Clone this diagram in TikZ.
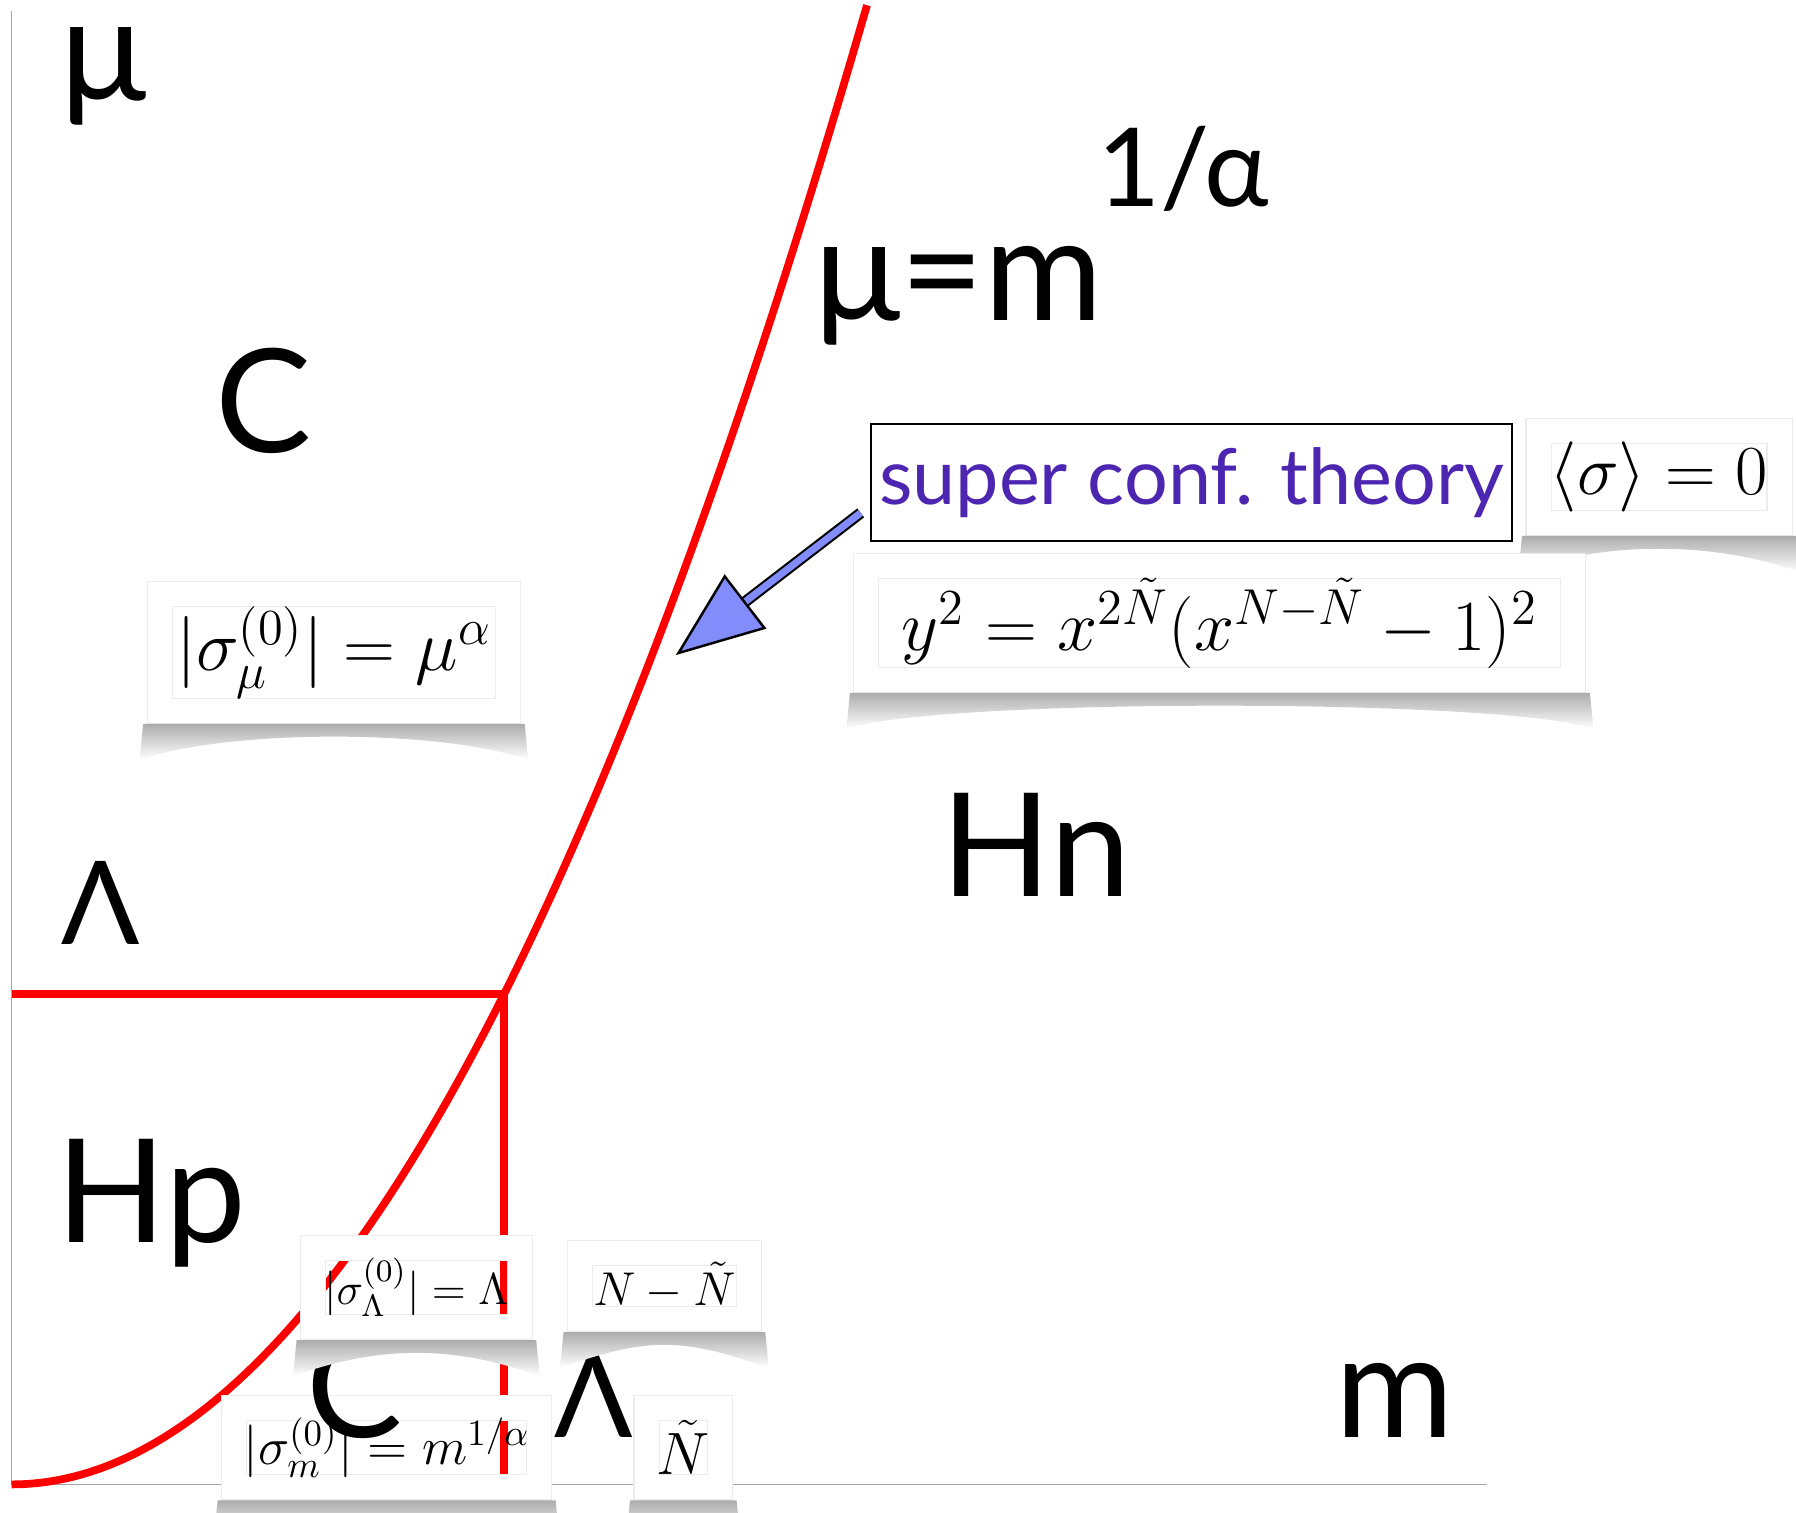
\RequirePackage{fix-cm}
\documentclass[tikz,border=0pt]{standalone}
\usepackage{fontspec}
\newfontfamily\labelfont{Lato}
\usepackage{tikz}
\usetikzlibrary{arrows.meta,calc}
\definecolor{theorypurple}{RGB}{76,38,176}
\definecolor{arrowblue}{RGB}{130,140,250}

% curled paper shadow under a framed formula
\newcommand{\curlshadow}[1]{%
  \shade[top color=gray!65, bottom color=white]
    ([xshift=-1pt]#1.south west) -- ([xshift=-2pt,yshift=-0.36cm]#1.south west)
    .. controls ([xshift=0.8cm,yshift=-0.05cm]#1.south west)
       and ([xshift=-0.8cm,yshift=-0.05cm]#1.south east)
    .. ([xshift=2pt,yshift=-0.36cm]#1.south east) -- ([xshift=1pt]#1.south east) -- cycle;}

\begin{document}
\begin{tikzpicture}[
  every node/.style={inner sep=0pt},
  axis/.style={gray!70, line width=0.5pt},
  redline/.style={red, line width=2.2pt},
  biglabel/.style={font=\labelfont\fontsize{41}{48}\selectfont, anchor=base,
                   text height=0.6em, text depth=0.22em},
  lamlabel/.style={font=\labelfont\fontsize{33}{40}\selectfont, anchor=base},
  powlabel/.style={font=\labelfont\fontsize{31}{36}\selectfont, anchor=base},
  eqframe/.style={draw=gray!15, line width=0.3pt, double=white,
                  double distance=0.24cm, outer sep=0.13cm},
  theorybox/.style={draw=black, line width=0.6pt, fill=white,
                    minimum width=6.415cm, minimum height=1.169cm,
                    text=theorypurple, font=\labelfont\fontsize{22}{27}\selectfont},
  bluearrow/.style={draw=black, line width=0.6pt, double=arrowblue,
                    double distance=2pt,
                    -{Triangle[length=0.88cm, width=0.68cm, fill=arrowblue, line width=0.7pt]}},
]
\useasboundingbox (-0.115,-0.276) rectangle (17.845,14.844);

%% Axes
\draw[axis] (0,14.73) -- (0,0) -- (14.75,0);

%% Phase boundaries
\draw[redline] plot[domain=0:8.556, samples=80, smooth] (\x, {\x*\x/4.948});
\coordinate (cross) at (4.925,4.902);
\draw[redline] (0,4.902) -- (cross) -- (4.925,0.1);

%% Region labels
\node[biglabel] (mu)    at (0.916,13.836) {μ};
\node[biglabel] (cup)   at (2.52,10.32)   {C};
\node[biglabel] (mueqm) at (9.473,11.637) {μ=m};
\node[powlabel] (power) at (11.717,12.78) {1/α};
\node[biglabel] (hn)    at (10.25,5.876)  {Hn};
\node[lamlabel] (lamup) at (0.893,5.395)  {Λ};
\node[biglabel] (hp)    at (1.397,2.417)  {Hp};

%% Superconformal point
\node[theorybox] (theory) at (11.80,10.02) {super conf. theory};
\coordinate (tip) at (6.643,8.293);
\draw[bluearrow] ([xshift=-0.09cm,yshift=0.29cm]theory.south west) -- (tip);

\node[eqframe, minimum width=2.41cm, minimum height=0.92cm,
      font=\fontsize{20}{24}\selectfont] (vev) at (16.475,10.074)
  {$\langle\sigma\rangle = 0$};
\curlshadow{vev}
\node[eqframe, minimum width=7.07cm, minimum height=1.137cm,
      font=\fontsize{20.5}{24}\selectfont] (curve) at (12.084,8.613)
  {$y^2 = x^{2\tilde N}(x^{N-\tilde N}-1)^2$};
\curlshadow{curve}
\node[eqframe, minimum width=3.485cm, minimum height=1.172cm,
      font=\fontsize{20.5}{24}\selectfont] (sigmu) at (3.224,8.321)
  {$|\sigma_\mu^{(0)}| = \mu^\alpha$};
\curlshadow{sigmu}

%% Bottom corner
\node[eqframe, minimum width=3.05cm, minimum height=0.793cm,
      font=\fontsize{15}{18}\selectfont] (sigm) at (3.751,0.366)
  {$|\sigma_m^{(0)}| = m^{1/\alpha}$};
\curlshadow{sigm}
\node[eqframe, minimum width=0.736cm, minimum height=0.793cm,
      font=\fontsize{17}{20}\selectfont] (ntilde) at (6.718,0.366)
  {$\tilde N$};
\curlshadow{ntilde}

\node[biglabel] (cdown)  at (3.436,0.47)  {C};
\node[lamlabel] (lamdown) at (5.819,0.47) {Λ};
\node[biglabel] (m)      at (13.836,0.47) {m};

\node[eqframe, minimum width=2.066cm, minimum height=0.794cm,
      font=\fontsize{12.7}{15}\selectfont] (siglam) at (4.049,1.97)
  {$|\sigma_\Lambda^{(0)}| = \Lambda$};
\curlshadow{siglam}
\node[eqframe, minimum width=1.687cm, minimum height=0.657cm,
      font=\fontsize{13.5}{16}\selectfont] (nminus) at (6.529,1.982)
  {$N-\tilde N$};
\curlshadow{nminus}

\end{tikzpicture}
\end{document}
